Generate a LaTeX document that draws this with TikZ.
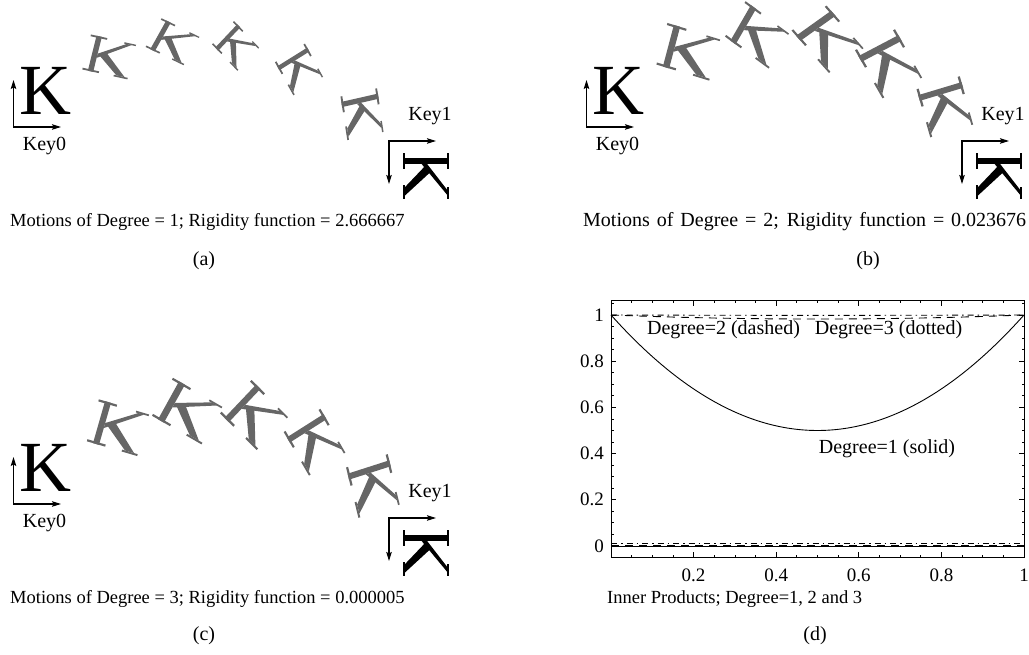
\documentclass[tikz,border=0pt]{standalone}
\usepackage{fontspec}
\setmainfont{Liberation Serif}
\usetikzlibrary{arrows.meta}
\definecolor{kgray}{RGB}{102,102,102}
\tikzset{
 axarrow/.style={line width=1.1pt, {Stealth[length=9pt,width=5.5pt,inset=1.5pt]}-{Stealth[length=9pt,width=5.5pt,inset=1.5pt]}},
 keylabel/.style={font=\fontsize{20}{22}\selectfont, inner sep=0},
 captiontext/.style={font=\fontsize{18.5}{20}\selectfont, inner sep=0, anchor=west},
 sublabel/.style={font=\fontsize{20}{22}\selectfont, inner sep=0},
 plotlabel/.style={font=\fontsize{20}{22}\selectfont, inner sep=0},
 ticklabel/.style={font=\fontsize{19}{21}\selectfont, inner sep=0},
 curve/.style={line width=0.9pt},
 frameline/.style={line width=0.8pt},
}
% #1 colour, (#2,#3) stem foot (image px), (#4,#5) arm vector u, (#6,#7) stem vector v
\newcommand\KK[7]{%
\begin{scope}[shift={(#2,{655-(#3)})},x={({(#4)*1pt},{-(#5)*1pt})},y={({(#6)*1pt},{-(#7)*1pt})}]
\fill[#1] (-0.065,0) -- (0.065,0) -- (0.065,1) -- (-0.065,1) -- cycle;
\fill[#1] (-0.2,0) -- (0.2,0) -- (0.2,0.05) -- (-0.2,0.05) -- cycle;
\fill[#1] (-0.2,0.95) -- (0.2,0.95) -- (0.2,1) -- (-0.2,1) -- cycle;
\fill[#1] (0.065,0.40) -- (0.80,0.955) -- (0.68,0.955) -- (0.065,0.52) -- cycle;
\fill[#1] (0.62,0.95) -- (0.90,0.95) -- (0.90,0.99) -- (0.62,0.99) -- cycle;
\fill[#1] (0.12,0.48) -- (0.62,0.045) -- (0.82,0.045) -- (0.26,0.60) -- cycle;
\fill[#1] (0.56,0) -- (0.90,0) -- (0.90,0.045) -- (0.56,0.045) -- cycle;
\end{scope}}
\newcommand\KeyFrames[3]{%
\begin{scope}[shift={(#2,#3)}]
\node[anchor=base west,inner sep=0,font=\fontsize{72}{72}\selectfont] (Kzero#1) at (19,540) {K};
\coordinate (Ozero#1) at (13.5,528);
\coordinate (Yzero#1) at (13.5,575);
\coordinate (Xzero#1) at (61,528);
\draw[axarrow] (Yzero#1) -- (Ozero#1) -- (Xzero#1);
\node[keylabel] (Lzero#1) at (44.5,509) {Key0};
\coordinate (Oone#1) at (389,514);
\coordinate (Yone#1) at (389,471);
\coordinate (Xone#1) at (436,514);
\draw[axarrow] (Yone#1) -- (Oone#1) -- (Xone#1);
\node[keylabel] (Lone#1) at (430,539) {Key1};
\KK{black}{403}{161}{0}{42}{46}{0}
\end{scope}}
\begin{document}
\begin{tikzpicture}[x=1pt,y=1pt]
\useasboundingbox (0,0) rectangle (1029,655);
\KeyFrames{a}{0}{0}
\KeyFrames{b}{573}{0}
\KeyFrames{c}{0}{-377}
% panel (a)
\KK{kgray}{90.5}{71.3}{41}{9}{8.7}{-35}
\KK{kgray}{152.5}{50.3}{34.5}{16.6}{16}{-28.7}
\KK{kgray}{216.7}{49.2}{23}{24}{22}{-23.3}
\KK{kgray}{278.3}{68.3}{16.7}{30}{30}{-18.7}
\KK{kgray}{341.7}{104.5}{6.25}{39.6}{36.6}{-8.3}
% panel (b)
\KK{kgray}{666}{67.5}{48}{14.6}{11}{-41.6}
\KK{kgray}{733}{42.5}{39.6}{29}{20.5}{-35.5}
\KK{kgray}{798.3}{38.3}{34}{38.5}{35}{-25}
\KK{kgray}{860}{59}{25}{43.75}{40}{-21}
\KK{kgray}{919}{98}{12.5}{43.75}{43.3}{-13}
% panel (c)
\KK{kgray}{96}{444}{45.75}{13.4}{12}{-42}
\KK{kgray}{161}{421}{45}{26}{21}{-38}
\KK{kgray}{226.7}{420}{33.3}{33.4}{31.6}{-33.3}
\KK{kgray}{288.3}{440}{23}{39.6}{36.7}{-23.3}
\KK{kgray}{348.3}{476.7}{11.25}{45.75}{41.7}{-13.4}
% captions
\node[captiontext] (capa) at (10,433) {Motions of Degree = 1; Rigidity function = 2.666667};
\node[captiontext, font=\fontsize{20}{22}\selectfont] (capb) at (583,433) {\makebox[443pt][s]{Motions of Degree = 2; Rigidity function = 0.023676}};
\node[captiontext] (capc) at (10,56) {Motions of Degree = 3; Rigidity function = 0.000005};
\node[captiontext] (capd) at (607,56) {Inner Products; Degree=1, 2 and 3};
\node[sublabel] (laba) at (204,394) {(a)};
\node[sublabel] (labb) at (868,394) {(b)};
\node[sublabel] (labc) at (204,19) {(c)};
\node[sublabel] (labd) at (815,19) {(d)};
% panel (d)
\begin{scope}[shift={(611,109)}, x=413pt, y=231pt]
\draw[frameline] (0,-0.048) rectangle (1,1.061);
\foreach \t in {0.05,0.1,...,0.96}{
  \draw[frameline] (\t,-0.048) -- ++(0pt,2.5pt);
  \draw[frameline] (\t,1.061) -- ++(0pt,-2.5pt);}
\foreach \t in {0.2,0.4,0.6,0.8}{
  \draw[frameline] (\t,-0.048) -- ++(0pt,5pt);
  \draw[frameline] (\t,1.061) -- ++(0pt,-5pt);}
\foreach \t in {0,0.05,...,1.051}{
  \draw[frameline] (0,\t) -- ++(2.5pt,0pt);
  \draw[frameline] (1,\t) -- ++(-2.5pt,0pt);}
\foreach \t in {0,0.2,...,1.01}{
  \draw[frameline] (0,\t) -- ++(5pt,0pt);
  \draw[frameline] (1,\t) -- ++(-5pt,0pt);}
\draw[curve] plot[domain=0:1, samples=80, smooth] (\x,{1-2*\x*(1-\x)});
\draw[curve] (0,0) -- (1,0);
\draw[curve, dash pattern=on 8pt off 6pt] plot[domain=0:1, samples=60, smooth] (\x,{1-0.07*\x*(1-\x)});
\draw[curve, dash pattern=on 6pt off 4pt on 1.5pt off 4pt] plot[domain=0:1, samples=60, smooth] (\x,{1-0.006*\x*(1-\x)});
\draw[curve, dash pattern=on 8pt off 6pt] (0,0.004) -- (1,0.004);
\draw[curve, dash pattern=on 6pt off 4pt on 1.5pt off 4pt] (0,0.009) -- (1,0.009);
\end{scope}
\foreach \v/\s in {0/0,0.2/0.2,0.4/0.4,0.6/0.6,0.8/0.8,1/1}{
  \node[ticklabel, anchor=east] (yt\s) at (604,{109+231*\v}) {\s};}
\foreach \v in {0.2,0.4,0.6,0.8,1}{
  \node[ticklabel] (xt\v) at ({611+413*\v},80) {\v};}
\node[plotlabel] (ldash) at (723.5,325) {Degree=2 (dashed)};
\node[plotlabel] (ldot) at (888.5,325) {Degree=3 (dotted)};
\node[plotlabel] (lsolid) at (887,206) {Degree=1 (solid)};
\end{tikzpicture}
\end{document}
